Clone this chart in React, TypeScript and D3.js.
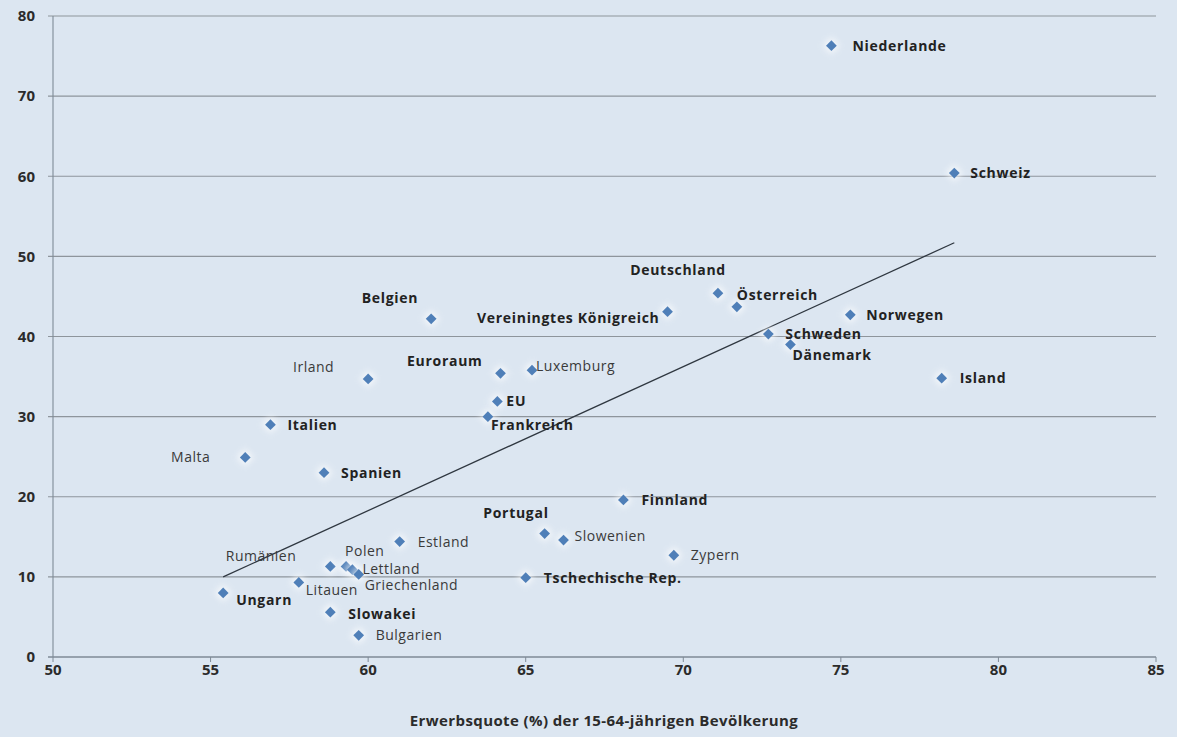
import React from "react";
import * as d3 from "d3";

const countries = [
  "Niederlande", "Schweiz", "Deutschland", "Österreich", "Vereiningtes Königreich",
  "Norwegen", "Schweden", "Dänemark", "Island", "Belgien", "Irland", "Euroraum",
  "Luxemburg", "EU", "Frankreich", "Italien", "Malta", "Spanien", "Finnland",
  "Portugal", "Slowenien", "Estland", "Zypern", "Rumänien", "Polen", "Lettland",
  "Griechenland", "Litauen", "Ungarn", "Slowakei", "Bulgarien", "Tschechische Rep.",
];
const erwerbsquote = [
  74.7, 78.6, 71.1, 71.7, 69.5,
  75.3, 72.7, 73.4, 78.2, 62.0, 60.0, 64.2,
  65.2, 64.1, 63.8, 56.9, 56.1, 58.6, 68.1,
  65.6, 66.2, 61.0, 69.7, 58.8, 59.3, 59.5,
  59.7, 57.8, 55.4, 58.8, 59.7, 65.0,
];
const yWerte = [
  76.3, 60.4, 45.4, 43.7, 43.1,
  42.7, 40.3, 39.0, 34.8, 42.2, 34.7, 35.4,
  35.8, 31.9, 30.0, 29.0, 24.9, 23.0, 19.6,
  15.4, 14.6, 14.4, 12.7, 11.3, 11.3, 10.9,
  10.3, 9.3, 8.0, 5.6, 2.7, 9.9,
];
const boldNames = [
  "Niederlande", "Schweiz", "Deutschland", "Österreich", "Vereiningtes Königreich",
  "Norwegen", "Schweden", "Dänemark", "Island", "Belgien", "Euroraum", "EU",
  "Frankreich", "Italien", "Spanien", "Finnland", "Portugal", "Tschechische Rep.",
  "Ungarn", "Slowakei",
];
const trendX = [55.4, 78.6];
const trendY = [10.0, 51.7];
const xTicks = [50, 55, 60, 65, 70, 75, 80, 85];
const yTicks = [0, 10, 20, 30, 40, 50, 60, 70, 80];
const xTitle = "Erwerbsquote (%) der 15-64-jährigen Bevölkerung";

// label layout: [anchor, dx, dy]
const labelLayout: Record<string, [string, number, number]> = {
  "Niederlande": ["start", 21, 0],
  "Schweiz": ["start", 16, 0],
  "Deutschland": ["end", 8, -23],
  "Österreich": ["start", 0, -12],
  "Vereiningtes Königreich": ["end", -8, 6],
  "Norwegen": ["start", 16, 0],
  "Schweden": ["start", 17, 0],
  "Dänemark": ["start", 2, 11],
  "Island": ["start", 18, 0],
  "Belgien": ["end", -13, -21],
  "Irland": ["end", -34, -12],
  "Euroraum": ["end", -18, -12],
  "Luxemburg": ["start", 4, -4],
  "EU": ["start", 9, 0],
  "Frankreich": ["start", 3, 8],
  "Italien": ["start", 17, 0],
  "Malta": ["end", -35, 0],
  "Spanien": ["start", 17, 0],
  "Finnland": ["start", 18, 0],
  "Portugal": ["end", 4, -21],
  "Slowenien": ["start", 11, -4],
  "Estland": ["start", 18, 0],
  "Zypern": ["start", 17, 0],
  "Rumänien": ["end", -34, -10],
  "Polen": ["start", -1, -15],
  "Lettland": ["start", 10, -1],
  "Griechenland": ["start", 6, 11],
  "Litauen": ["start", 7, 8],
  "Ungarn": ["start", 13, 7],
  "Slowakei": ["start", 18, 2],
  "Bulgarien": ["start", 17, 0],
  "Tschechische Rep.": ["start", 18, 0],
};

const W = 1177;
const H = 737;
const left = 53, right = 1156, top = 16, bottom = 657;

export default function App() {
  const x = d3.scaleLinear().domain([50, 85]).range([left, right]);
  const y = d3.scaleLinear().domain([0, 80]).range([bottom, top]);
  const font = "'Open Sans', 'DejaVu Sans', sans-serif";
  const diamond = d3.symbol().type(d3.symbolSquare).size(58)() as string;
  const line = d3.line<number>().x((_, i) => x(trendX[i])).y((_, i) => y(trendY[i]));

  return (
    <svg width={W} height={H} style={{ position: "absolute", left: 0, top: 0 }} fontFamily={font}>
      <defs>
        <filter id="glow" x="-100%" y="-100%" width="300%" height="300%">
          <feGaussianBlur stdDeviation="2" />
        </filter>
      </defs>
      <rect x={0} y={0} width={W} height={H} fill="#dce6f1" />
      {yTicks.map((t) => (
        <g key={t}>
          <line x1={left - 5} x2={right} y1={y(t)} y2={y(t)} stroke={t === 0 ? "#7f8a96" : "#8e959c"} strokeWidth={t === 0 ? 1.6 : 1.1} />
          <text x={35} y={y(t)} dy="0.35em" textAnchor="end" fontSize={15} fontWeight="bold" fill="#2b2b2b">{t}</text>
        </g>
      ))}
      <line x1={left} x2={left} y1={top} y2={bottom} stroke="#7f8a96" strokeWidth={1.1} />
      {xTicks.map((t) => (
        <g key={t}>
          <line x1={x(t)} x2={x(t)} y1={bottom} y2={bottom + 5} stroke="#7f8a96" strokeWidth={1} />
          <text x={x(t)} y={675} textAnchor="middle" fontSize={15} fontWeight="bold" fill="#2b2b2b">{t}</text>
        </g>
      ))}
      <text x={604} y={726} textAnchor="middle" fontSize={15} fontWeight="bold" letterSpacing={0.4} fill="#2b2b2b">{xTitle}</text>
      <path d={line(trendX) as string} stroke="#2f3740" strokeWidth={1.3} fill="none" />
      {countries.map((c, i) => (
        <g key={c} transform={`translate(${x(erwerbsquote[i])},${y(yWerte[i])}) rotate(45)`}>
          <path d={diamond} fill="#ffffff" opacity={0.7} filter="url(#glow)" transform="scale(1.6)" />
          <path d={diamond} fill="#4f7fb8" />
        </g>
      ))}
      {countries.map((c, i) => {
        const [anchor, dx, dy] = labelLayout[c];
        const bold = boldNames.includes(c);
        return (
          <text
            key={c + "-l"}
            x={x(erwerbsquote[i]) + dx}
            y={y(yWerte[i]) + dy}
            dy="0.35em"
            textAnchor={anchor}
            fontSize={14}
            letterSpacing={bold ? 0.7 : 0.5}
            fontWeight={bold ? "bold" : "normal"}
            fill={bold ? "#222" : "#3a3a3a"}
          >
            {c}
          </text>
        );
      })}
    </svg>
  );
}
